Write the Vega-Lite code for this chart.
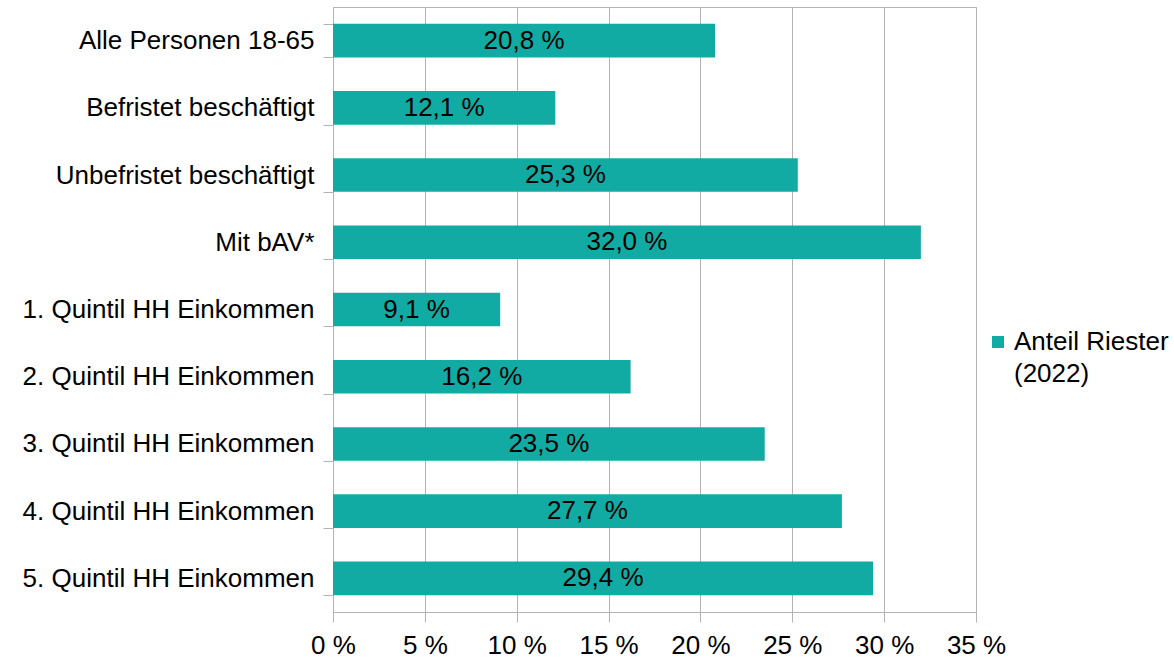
{
  "$schema": "https://vega.github.io/schema/vega-lite/v6.json",
  "autosize": "none",
  "width": 643,
  "height": 605,
  "padding": {"left": 333, "top": 7, "right": 198, "bottom": 47},
  "config": {
    "font": "Liberation Sans",
    "locale": {"number": {"decimal": ",", "thousands": ".", "grouping": [3], "currency": ["", " €"], "percent": " %"}},
    "view": {"stroke": "#b3b3b3", "strokeWidth": 1}
  },
  "data": {
    "values": [
      {"category": "Alle Personen 18-65", "value": 0.208, "series": "Anteil Riester (2022)"},
      {"category": "Befristet beschäftigt", "value": 0.121, "series": "Anteil Riester (2022)"},
      {"category": "Unbefristet beschäftigt", "value": 0.253, "series": "Anteil Riester (2022)"},
      {"category": "Mit bAV*", "value": 0.320, "series": "Anteil Riester (2022)"},
      {"category": "1. Quintil HH Einkommen", "value": 0.091, "series": "Anteil Riester (2022)"},
      {"category": "2. Quintil HH Einkommen", "value": 0.162, "series": "Anteil Riester (2022)"},
      {"category": "3. Quintil HH Einkommen", "value": 0.235, "series": "Anteil Riester (2022)"},
      {"category": "4. Quintil HH Einkommen", "value": 0.277, "series": "Anteil Riester (2022)"},
      {"category": "5. Quintil HH Einkommen", "value": 0.294, "series": "Anteil Riester (2022)"}
    ]
  },
  "encoding": {
    "y": {
      "field": "category",
      "type": "nominal",
      "sort": null,
      "scale": {"paddingInner": 0.5, "paddingOuter": 0.25},
      "axis": {
        "title": null,
        "labelFontSize": 26,
        "labelColor": "#000000",
        "labelPadding": 9,
        "labelLimit": 400,
        "labelExpr": "indexof(datum.label, 'Quintil') >= 0 ? datum.label + '\u2008' : datum.label",
        "tickSize": 10,
        "tickColor": "#b3b3b3",
        "domainColor": "#b3b3b3",
        "tickBand": "extent",
        "grid": false
      }
    }
  },
  "layer": [
    {
      "mark": {"type": "bar"},
      "encoding": {
        "x": {
          "field": "value",
          "type": "quantitative",
          "scale": {"domain": [0, 0.35], "nice": false},
          "axis": {
            "title": null,
            "values": [0, 0.05, 0.1, 0.15, 0.2, 0.25, 0.3, 0.35],
            "format": ".0%",
            "labelFontSize": 26,
            "labelColor": "#000000",
            "labelPadding": 10,
            "labelFlush": false,
            "labelOverlap": false,
            "tickSize": 10,
            "tickColor": "#b3b3b3",
            "domainColor": "#b3b3b3",
            "gridColor": "#b3b3b3",
            "grid": true
          }
        },
        "color": {
          "field": "series",
          "type": "nominal",
          "scale": {"range": ["#12aba3"]},
          "legend": {
            "title": null,
            "orient": "none",
            "legendX": 652,
            "legendY": 322,
            "padding": 0,
            "symbolType": "square",
            "symbolSize": 144,
            "symbolStrokeWidth": 0,
            "symbolOpacity": 1,
            "labelFontSize": 26,
            "labelColor": "#000000",
            "labelOffset": 3,
            "labelLimit": 300,
            "labelBaseline": "middle",
            "labelExpr": "['Anteil Riester', '(2022)']",
            "encode": {"labels": {"update": {"lineHeight": {"value": 32}}}}
          }
        }
      }
    },
    {
      "mark": {"type": "text", "fontSize": 26, "color": "#000000", "align": "center", "baseline": "middle"},
      "encoding": {
        "x": {"field": "value", "type": "quantitative", "scale": {"domain": [0, 0.7], "nice": false}, "axis": null},
        "text": {"field": "value", "type": "quantitative", "format": ".1%"}
      }
    }
  ],
  "resolve": {"scale": {"x": "independent"}}
}
